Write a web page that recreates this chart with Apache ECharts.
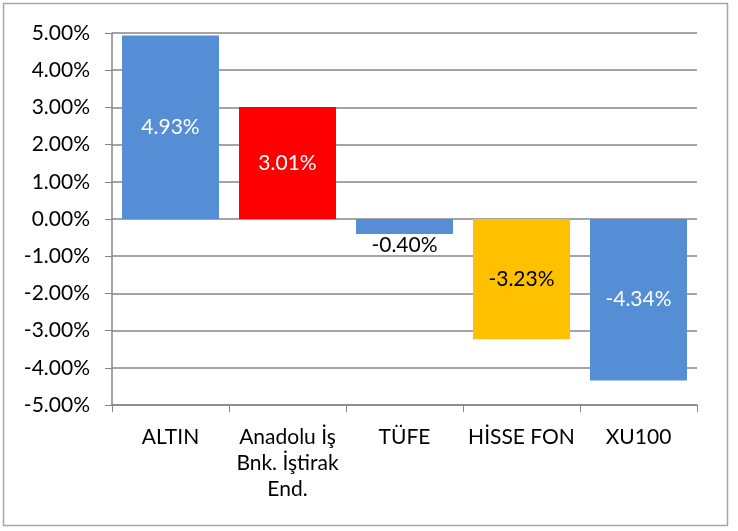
<!DOCTYPE html>
<html>
<head>
<meta charset="UTF-8">
<title>Getiri</title>
<script src="https://cdn.jsdelivr.net/npm/echarts@6/dist/echarts.min.js"></script>
</head>
<body style="margin:0;background:#fff;">
<div id="chart" style="width:738px;height:531px;"></div>
<script>
var categories = ["ALTIN", "Anadolu İş\nBnk. İştirak\nEnd.", "TÜFE", "HİSSE FON", "XU100"];
var values = [4.93, 3.01, -0.40, -3.23, -4.34];
var barColors = ["#558ED5", "#FF0000", "#558ED5", "#FFC000", "#558ED5"];
var labelColors = ["#fff", "#fff", "#000", "#000", "#fff"];
var labelPos = ["inside", "inside", "bottom", "inside", "inside"];

var chart = echarts.init(document.getElementById("chart"));

var barData = values.map(function (v, i) {
    return {
        value: v,
        itemStyle: {color: barColors[i]},
        label: {color: labelColors[i], position: labelPos[i], distance: 1}
    };
});

chart.setOption({
    animation: false,
    textStyle: {fontFamily: "Lato"},
    graphic: [{
        type: "rect",
        shape: {x: 3.5, y: 3.5, width: 724, height: 522},
        style: {fill: "none", stroke: "#a6a6a6", lineWidth: 1.5}
    }],
    grid: {left: 112, right: 41, top: 33, bottom: 126},
    xAxis: {
        type: "category",
        data: categories,
        axisLine: {onZero: false, lineStyle: {color: "#868686", width: 1.5}},
        axisTick: {show: true, length: 7, lineStyle: {color: "#868686"}},
        axisLabel: {color: "#000", fontSize: 21, lineHeight: 26, margin: 19, interval: 0, fontFamily: "Lato"}
    },
    yAxis: {
        type: "value",
        min: -5,
        max: 5,
        interval: 1,
        axisLine: {show: true, lineStyle: {color: "#868686", width: 1.5}},
        axisTick: {show: true, length: 7, lineStyle: {color: "#868686"}},
        splitLine: {lineStyle: {color: "#868686", width: 1.5}},
        axisLabel: {
            color: "#000", fontSize: 21, margin: 22, fontFamily: "Lato",
            formatter: function (v) { return v.toFixed(2) + "%"; }
        }
    },
    series: [{
        type: "bar",
        data: barData,
        barWidth: 97,
        label: {
            show: true,
            fontSize: 21,
            fontFamily: "Lato",
            formatter: function (p) { return p.value.toFixed(2) + "%"; }
        }
    }]
});
</script>
</body>
</html>
